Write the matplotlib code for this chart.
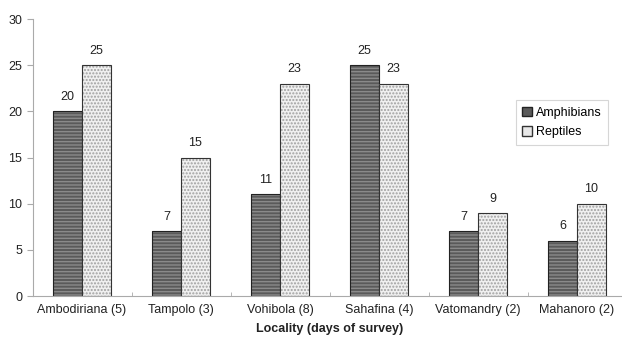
import matplotlib.pyplot as plt
import numpy as np
from matplotlib.patches import Patch

plt.rcParams['font.family'] = ['Liberation Sans', 'DejaVu Sans']
plt.rcParams['hatch.linewidth'] = 1.0

localities = ['Ambodiriana (5)', 'Tampolo (3)', 'Vohibola (8)',
              'Sahafina (4)', 'Vatomandry (2)', 'Mahanoro (2)']
amphibians = [20, 7, 11, 25, 7, 6]
reptiles = [25, 15, 23, 23, 9, 10]

x = np.arange(len(localities))
w = 0.29
fs = 9

fig = plt.figure(figsize=(6.22, 3.44), dpi=100)
ax = fig.add_axes([0.0523, 0.1395, 0.955, 0.805])

# amphibians: dark grey with light horizontal stripes
ax.bar(x - w / 2, amphibians, w, color='#5a5a5a', edgecolor='#8a8a8a',
       hatch='-----', linewidth=0)
ax.bar(x - w / 2, amphibians, w, fill=False, edgecolor='#222222', linewidth=0.8)
# reptiles: light grey dotted
ax.bar(x + w / 2, reptiles, w, color='#f0f0f0', edgecolor='#a0a0a0',
       hatch='.....', linewidth=0)
ax.bar(x + w / 2, reptiles, w, fill=False, edgecolor='#333333', linewidth=0.8)

for i in range(len(x)):
    ax.text(x[i] - w / 2, amphibians[i] + 0.9, str(amphibians[i]),
            ha='center', va='bottom', fontsize=fs, color='#222222')
    ax.text(x[i] + w / 2, reptiles[i] + 0.9, str(reptiles[i]),
            ha='center', va='bottom', fontsize=fs, color='#222222')

ax.set_xlim(-0.5, len(x) - 0.5)
ax.set_ylim(0, 30)
ax.set_yticks(range(0, 31, 5))
ax.set_xticks(x)
ax.set_xticklabels(localities, fontsize=fs, color='#222222')
ax.set_xticks(np.arange(-0.5, len(x), 1.0), minor=True)
ax.tick_params(axis='x', which='major', length=0, pad=6)
ax.tick_params(axis='x', which='minor', length=3, color='#aaaaaa', direction='in')
ax.tick_params(axis='y', length=4, color='#aaaaaa', labelsize=fs, labelcolor='#222222')

for s in ['top', 'right']:
    ax.spines[s].set_visible(False)
for s in ['left', 'bottom']:
    ax.spines[s].set_color('#aaaaaa')

ax.set_xlabel('Locality (days of survey)', fontsize=fs, fontweight='bold',
              color='#222222', labelpad=5)

handles = [Patch(facecolor='#5a5a5a', edgecolor='#222222', label='Amphibians'),
           Patch(facecolor='#e8e8e8', edgecolor='#333333', label='Reptiles')]
leg = ax.legend(handles=handles, loc='upper left', bbox_to_anchor=(0.803, 0.729),
                fontsize=fs, frameon=True, fancybox=False, handlelength=0.8,
                handleheight=0.8, handletextpad=0.3, borderpad=0.5, labelspacing=0.6)
leg.get_frame().set_edgecolor('#cccccc')
leg.get_frame().set_linewidth(0.8)

plt.savefig('out.png', dpi=100)
